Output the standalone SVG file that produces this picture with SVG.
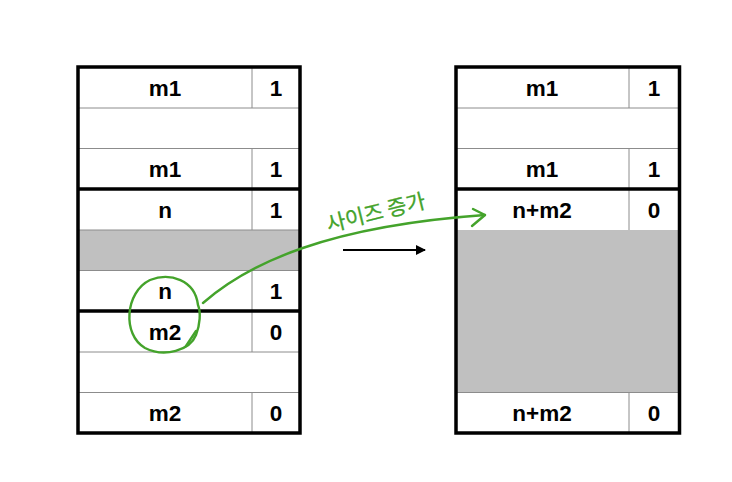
<svg xmlns="http://www.w3.org/2000/svg" width="732" height="482" viewBox="0 0 732 482">
<style>
.t{font-family:"Liberation Sans",Arial,sans-serif;font-weight:bold;font-size:22.5px;fill:#000;text-anchor:middle}
.thin{stroke:#8c8c8c;stroke-width:1;fill:none}
.thick{stroke:#000;stroke-width:3.5;fill:none}
.gray{fill:#c0c0c0}
.green{stroke:#44a32b;stroke-width:2.4;fill:none;stroke-linecap:round;stroke-linejoin:round}
.gt{font-family:"Noto Sans CJK KR","Noto Sans",sans-serif;font-size:21px;fill:#44a32b;stroke:#44a32b;stroke-width:0.3}
</style>
<defs>
<marker id="ah" viewBox="0 0 10 10" refX="9" refY="5" markerWidth="11" markerHeight="10" markerUnits="userSpaceOnUse" orient="auto">
<path d="M0,0 L10,5 L0,10 z" fill="#000"/>
</marker>
</defs>
<rect width="732" height="482" fill="#fff"/>

<g id="left-table">
<rect class="gray" x="78" y="230" width="222" height="40.5"/>
<g id="L-row0"><line class="thin" x1="252" y1="67" x2="252" y2="108"/><text class="t" x="165" y="96">m1</text><text class="t" x="276" y="96">1</text></g>
<g id="L-row1"><line class="thin" x1="78" y1="108" x2="300" y2="108"/></g>
<g id="L-row2"><line class="thin" x1="78" y1="148.5" x2="300" y2="148.5"/><line class="thin" x1="252" y1="148.5" x2="252" y2="189"/><text class="t" x="165" y="177">m1</text><text class="t" x="276" y="177">1</text></g>
<g id="L-row3"><line class="thin" x1="252" y1="189" x2="252" y2="230"/><text class="t" x="165" y="218">n</text><text class="t" x="276" y="218">1</text></g>
<g id="L-row4"><line class="thin" x1="78" y1="230" x2="300" y2="230"/></g>
<g id="L-row5"><line class="thin" x1="78" y1="270.5" x2="300" y2="270.5"/><line class="thin" x1="252" y1="270.5" x2="252" y2="311"/><text class="t" x="165" y="299">n</text><text class="t" x="276" y="299">1</text></g>
<g id="L-row6"><line class="thin" x1="252" y1="311" x2="252" y2="352"/><text class="t" x="165" y="340">m2</text><text class="t" x="276" y="340">0</text></g>
<g id="L-row7"><line class="thin" x1="78" y1="352" x2="300" y2="352"/></g>
<g id="L-row8"><line class="thin" x1="78" y1="392.5" x2="300" y2="392.5"/><line class="thin" x1="252" y1="392.5" x2="252" y2="433"/><text class="t" x="165" y="421">m2</text><text class="t" x="276" y="421">0</text></g>
<line class="thick" x1="78" y1="189" x2="300" y2="189"/>
<line class="thick" x1="78" y1="311" x2="300" y2="311"/>
<rect class="thick" x="78" y="67" width="222" height="366"/>
</g>

<g id="right-table">
<rect class="gray" x="456" y="230" width="223.5" height="162.5"/>
<g id="R-row0"><line class="thin" x1="629" y1="67" x2="629" y2="108"/><text class="t" x="542" y="96">m1</text><text class="t" x="654" y="96">1</text></g>
<g id="R-row1"><line class="thin" x1="456" y1="108" x2="679.5" y2="108"/></g>
<g id="R-row2"><line class="thin" x1="456" y1="148.5" x2="679.5" y2="148.5"/><line class="thin" x1="629" y1="148.5" x2="629" y2="189"/><text class="t" x="542" y="177">m1</text><text class="t" x="654" y="177">1</text></g>
<g id="R-row3"><line class="thin" x1="629" y1="189" x2="629" y2="230"/><text class="t" x="542" y="218">n+m2</text><text class="t" x="654" y="218">0</text></g>
<g id="R-row8"><line class="thin" x1="456" y1="392.5" x2="679.5" y2="392.5"/><line class="thin" x1="629" y1="392.5" x2="629" y2="433"/><text class="t" x="542" y="421">n+m2</text><text class="t" x="654" y="421">0</text></g>
<line class="thick" x1="456" y1="189" x2="679.5" y2="189"/>
<rect class="thick" x="456" y="67" width="223.5" height="366"/>
</g>

<g id="connectors">
<line x1="343" y1="250" x2="425" y2="250" stroke="#000" stroke-width="2.2" marker-end="url(#ah)"/>
<path class="green" d="M203,303 C250,262 330,226 485,215"/>
<path class="green" d="M473,209 L485,215 L472,226"/>
<path class="green" d="M198,305 C195,280 170,272 150,280 C125,292 122,335 145,348 C165,358 190,350 196,335 C200,325 201,312 198,305"/>
<path class="green" d="M186,346 L196,331"/>
<text class="gt" x="376" y="220" text-anchor="middle" transform="rotate(-14 376 213)">사이즈 증가</text>
</g>
</svg>
